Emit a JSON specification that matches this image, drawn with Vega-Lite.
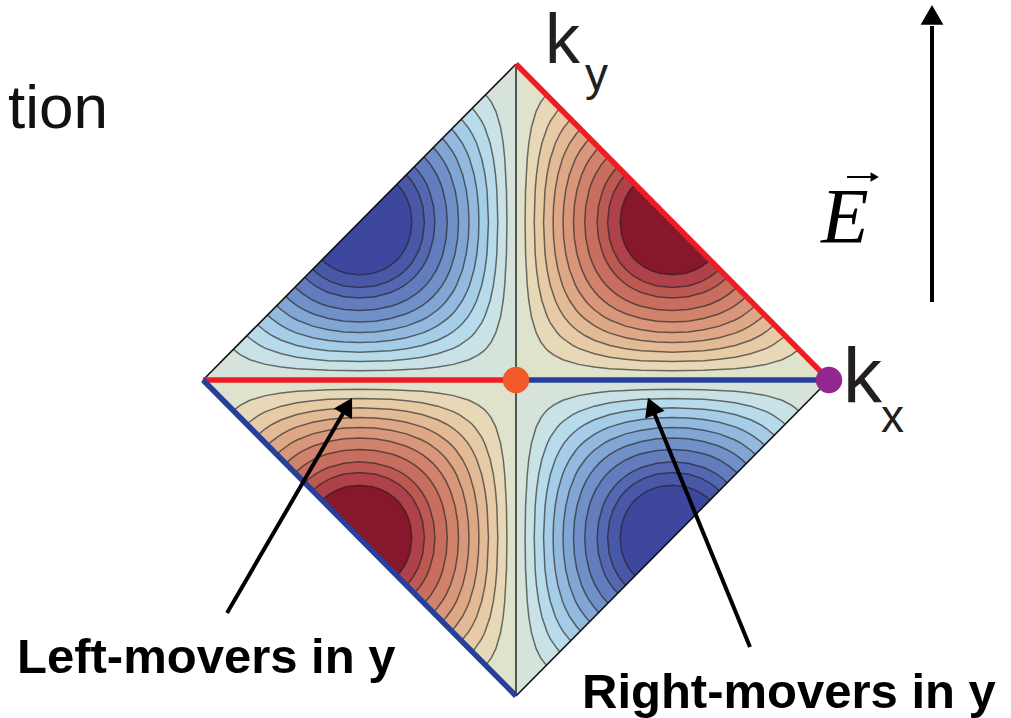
{
  "$schema": "https://vega.github.io/schema/vega-lite/v6.json",
  "width": 1011,
  "height": 718,
  "padding": 0,
  "autosize": {"type": "none"},
  "background": "white",
  "config": {"view": {"stroke": null}},
  "resolve": {"scale": {"color": "independent"}},
  "datasets": {
    "bands": [
      {"level":0,"i":0,"kx":0,"ky":1,"nkx":0,"nky":-1},
      {"level":0,"i":1,"kx":0,"ky":0,"nkx":0,"nky":0},
      {"level":0,"i":2,"kx":1,"ky":0,"nkx":-1,"nky":0},

      {"level":1,"i":0,"kx":0.0975,"ky":0.9025,"nkx":-0.0975,"nky":-0.9025},
      {"level":1,"i":1,"kx":0.0906,"ky":0.895,"nkx":-0.0906,"nky":-0.895},
      {"level":1,"i":2,"kx":0.0794,"ky":0.88,"nkx":-0.0794,"nky":-0.88},
      {"level":1,"i":3,"kx":0.0642,"ky":0.85,"nkx":-0.0642,"nky":-0.85},
      {"level":1,"i":4,"kx":0.0494,"ky":0.8,"nkx":-0.0494,"nky":-0.8},
      {"level":1,"i":5,"kx":0.041,"ky":0.75,"nkx":-0.041,"nky":-0.75},
      {"level":1,"i":6,"kx":0.0359,"ky":0.7,"nkx":-0.0359,"nky":-0.7},
      {"level":1,"i":7,"kx":0.0305,"ky":0.6,"nkx":-0.0305,"nky":-0.6},
      {"level":1,"i":8,"kx":0.029,"ky":0.5,"nkx":-0.029,"nky":-0.5},
      {"level":1,"i":9,"kx":0.0305,"ky":0.4,"nkx":-0.0305,"nky":-0.4},
      {"level":1,"i":10,"kx":0.0359,"ky":0.3,"nkx":-0.0359,"nky":-0.3},
      {"level":1,"i":11,"kx":0.041,"ky":0.25,"nkx":-0.041,"nky":-0.25},
      {"level":1,"i":12,"kx":0.0494,"ky":0.2,"nkx":-0.0494,"nky":-0.2},
      {"level":1,"i":13,"kx":0.0642,"ky":0.15,"nkx":-0.0642,"nky":-0.15},
      {"level":1,"i":14,"kx":0.0794,"ky":0.12,"nkx":-0.0794,"nky":-0.12},
      {"level":1,"i":15,"kx":0.0906,"ky":0.105,"nkx":-0.0906,"nky":-0.105},
      {"level":1,"i":16,"kx":0.0975,"ky":0.0975,"nkx":-0.0975,"nky":-0.0975},
      {"level":1,"i":17,"kx":0.105,"ky":0.0906,"nkx":-0.105,"nky":-0.0906},
      {"level":1,"i":18,"kx":0.12,"ky":0.0794,"nkx":-0.12,"nky":-0.0794},
      {"level":1,"i":19,"kx":0.15,"ky":0.0642,"nkx":-0.15,"nky":-0.0642},
      {"level":1,"i":20,"kx":0.2,"ky":0.0494,"nkx":-0.2,"nky":-0.0494},
      {"level":1,"i":21,"kx":0.25,"ky":0.041,"nkx":-0.25,"nky":-0.041},
      {"level":1,"i":22,"kx":0.3,"ky":0.0359,"nkx":-0.3,"nky":-0.0359},
      {"level":1,"i":23,"kx":0.4,"ky":0.0305,"nkx":-0.4,"nky":-0.0305},
      {"level":1,"i":24,"kx":0.5,"ky":0.029,"nkx":-0.5,"nky":-0.029},
      {"level":1,"i":25,"kx":0.6,"ky":0.0305,"nkx":-0.6,"nky":-0.0305},
      {"level":1,"i":26,"kx":0.7,"ky":0.0359,"nkx":-0.7,"nky":-0.0359},
      {"level":1,"i":27,"kx":0.75,"ky":0.041,"nkx":-0.75,"nky":-0.041},
      {"level":1,"i":28,"kx":0.8,"ky":0.0494,"nkx":-0.8,"nky":-0.0494},
      {"level":1,"i":29,"kx":0.85,"ky":0.0642,"nkx":-0.85,"nky":-0.0642},
      {"level":1,"i":30,"kx":0.88,"ky":0.0794,"nkx":-0.88,"nky":-0.0794},
      {"level":1,"i":31,"kx":0.895,"ky":0.0906,"nkx":-0.895,"nky":-0.0906},
      {"level":1,"i":32,"kx":0.9025,"ky":0.0975,"nkx":-0.9025,"nky":-0.0975},

      {"level":2,"i":0,"kx":0.1402,"ky":0.8598,"nkx":-0.1402,"nky":-0.8598},
      {"level":2,"i":1,"kx":0.1312,"ky":0.85,"nkx":-0.1312,"nky":-0.85},
      {"level":2,"i":2,"kx":0.1102,"ky":0.82,"nkx":-0.1102,"nky":-0.82},
      {"level":2,"i":3,"kx":0.1001,"ky":0.8,"nkx":-0.1001,"nky":-0.8},
      {"level":2,"i":4,"kx":0.0828,"ky":0.75,"nkx":-0.0828,"nky":-0.75},
      {"level":2,"i":5,"kx":0.0722,"ky":0.7,"nkx":-0.0722,"nky":-0.7},
      {"level":2,"i":6,"kx":0.0654,"ky":0.65,"nkx":-0.0654,"nky":-0.65},
      {"level":2,"i":7,"kx":0.0612,"ky":0.6,"nkx":-0.0612,"nky":-0.6},
      {"level":2,"i":8,"kx":0.0582,"ky":0.5,"nkx":-0.0582,"nky":-0.5},
      {"level":2,"i":9,"kx":0.0612,"ky":0.4,"nkx":-0.0612,"nky":-0.4},
      {"level":2,"i":10,"kx":0.0654,"ky":0.35,"nkx":-0.0654,"nky":-0.35},
      {"level":2,"i":11,"kx":0.0722,"ky":0.3,"nkx":-0.0722,"nky":-0.3},
      {"level":2,"i":12,"kx":0.0828,"ky":0.25,"nkx":-0.0828,"nky":-0.25},
      {"level":2,"i":13,"kx":0.1001,"ky":0.2,"nkx":-0.1001,"nky":-0.2},
      {"level":2,"i":14,"kx":0.1102,"ky":0.18,"nkx":-0.1102,"nky":-0.18},
      {"level":2,"i":15,"kx":0.1312,"ky":0.15,"nkx":-0.1312,"nky":-0.15},
      {"level":2,"i":16,"kx":0.1402,"ky":0.1402,"nkx":-0.1402,"nky":-0.1402},
      {"level":2,"i":17,"kx":0.15,"ky":0.1312,"nkx":-0.15,"nky":-0.1312},
      {"level":2,"i":18,"kx":0.18,"ky":0.1102,"nkx":-0.18,"nky":-0.1102},
      {"level":2,"i":19,"kx":0.2,"ky":0.1001,"nkx":-0.2,"nky":-0.1001},
      {"level":2,"i":20,"kx":0.25,"ky":0.0828,"nkx":-0.25,"nky":-0.0828},
      {"level":2,"i":21,"kx":0.3,"ky":0.0722,"nkx":-0.3,"nky":-0.0722},
      {"level":2,"i":22,"kx":0.35,"ky":0.0654,"nkx":-0.35,"nky":-0.0654},
      {"level":2,"i":23,"kx":0.4,"ky":0.0612,"nkx":-0.4,"nky":-0.0612},
      {"level":2,"i":24,"kx":0.5,"ky":0.0582,"nkx":-0.5,"nky":-0.0582},
      {"level":2,"i":25,"kx":0.6,"ky":0.0612,"nkx":-0.6,"nky":-0.0612},
      {"level":2,"i":26,"kx":0.65,"ky":0.0654,"nkx":-0.65,"nky":-0.0654},
      {"level":2,"i":27,"kx":0.7,"ky":0.0722,"nkx":-0.7,"nky":-0.0722},
      {"level":2,"i":28,"kx":0.75,"ky":0.0828,"nkx":-0.75,"nky":-0.0828},
      {"level":2,"i":29,"kx":0.8,"ky":0.1001,"nkx":-0.8,"nky":-0.1001},
      {"level":2,"i":30,"kx":0.82,"ky":0.1102,"nkx":-0.82,"nky":-0.1102},
      {"level":2,"i":31,"kx":0.85,"ky":0.1312,"nkx":-0.85,"nky":-0.1312},
      {"level":2,"i":32,"kx":0.8598,"ky":0.1402,"nkx":-0.8598,"nky":-0.1402},

      {"level":3,"i":0,"kx":0.1749,"ky":0.8251,"nkx":-0.1749,"nky":-0.8251},
      {"level":3,"i":1,"kx":0.17,"ky":0.82,"nkx":-0.17,"nky":-0.82},
      {"level":3,"i":2,"kx":0.1536,"ky":0.8,"nkx":-0.1536,"nky":-0.8},
      {"level":3,"i":3,"kx":0.1408,"ky":0.78,"nkx":-0.1408,"nky":-0.78},
      {"level":3,"i":4,"kx":0.126,"ky":0.75,"nkx":-0.126,"nky":-0.75},
      {"level":3,"i":5,"kx":0.1094,"ky":0.7,"nkx":-0.1094,"nky":-0.7},
      {"level":3,"i":6,"kx":0.099,"ky":0.65,"nkx":-0.099,"nky":-0.65},
      {"level":3,"i":7,"kx":0.0926,"ky":0.6,"nkx":-0.0926,"nky":-0.6},
      {"level":3,"i":8,"kx":0.0879,"ky":0.5,"nkx":-0.0879,"nky":-0.5},
      {"level":3,"i":9,"kx":0.0926,"ky":0.4,"nkx":-0.0926,"nky":-0.4},
      {"level":3,"i":10,"kx":0.099,"ky":0.35,"nkx":-0.099,"nky":-0.35},
      {"level":3,"i":11,"kx":0.1094,"ky":0.3,"nkx":-0.1094,"nky":-0.3},
      {"level":3,"i":12,"kx":0.126,"ky":0.25,"nkx":-0.126,"nky":-0.25},
      {"level":3,"i":13,"kx":0.1408,"ky":0.22,"nkx":-0.1408,"nky":-0.22},
      {"level":3,"i":14,"kx":0.1536,"ky":0.2,"nkx":-0.1536,"nky":-0.2},
      {"level":3,"i":15,"kx":0.17,"ky":0.18,"nkx":-0.17,"nky":-0.18},
      {"level":3,"i":16,"kx":0.1749,"ky":0.1749,"nkx":-0.1749,"nky":-0.1749},
      {"level":3,"i":17,"kx":0.18,"ky":0.17,"nkx":-0.18,"nky":-0.17},
      {"level":3,"i":18,"kx":0.2,"ky":0.1536,"nkx":-0.2,"nky":-0.1536},
      {"level":3,"i":19,"kx":0.22,"ky":0.1408,"nkx":-0.22,"nky":-0.1408},
      {"level":3,"i":20,"kx":0.25,"ky":0.126,"nkx":-0.25,"nky":-0.126},
      {"level":3,"i":21,"kx":0.3,"ky":0.1094,"nkx":-0.3,"nky":-0.1094},
      {"level":3,"i":22,"kx":0.35,"ky":0.099,"nkx":-0.35,"nky":-0.099},
      {"level":3,"i":23,"kx":0.4,"ky":0.0926,"nkx":-0.4,"nky":-0.0926},
      {"level":3,"i":24,"kx":0.5,"ky":0.0879,"nkx":-0.5,"nky":-0.0879},
      {"level":3,"i":25,"kx":0.6,"ky":0.0926,"nkx":-0.6,"nky":-0.0926},
      {"level":3,"i":26,"kx":0.65,"ky":0.099,"nkx":-0.65,"nky":-0.099},
      {"level":3,"i":27,"kx":0.7,"ky":0.1094,"nkx":-0.7,"nky":-0.1094},
      {"level":3,"i":28,"kx":0.75,"ky":0.126,"nkx":-0.75,"nky":-0.126},
      {"level":3,"i":29,"kx":0.78,"ky":0.1408,"nkx":-0.78,"nky":-0.1408},
      {"level":3,"i":30,"kx":0.8,"ky":0.1536,"nkx":-0.8,"nky":-0.1536},
      {"level":3,"i":31,"kx":0.82,"ky":0.17,"nkx":-0.82,"nky":-0.17},
      {"level":3,"i":32,"kx":0.8251,"ky":0.1749,"nkx":-0.8251,"nky":-0.1749},

      {"level":4,"i":0,"kx":0.206,"ky":0.794,"nkx":-0.206,"nky":-0.794},
      {"level":4,"i":1,"kx":0.1933,"ky":0.78,"nkx":-0.1933,"nky":-0.78},
      {"level":4,"i":2,"kx":0.172,"ky":0.75,"nkx":-0.172,"nky":-0.75},
      {"level":4,"i":3,"kx":0.1565,"ky":0.72,"nkx":-0.1565,"nky":-0.72},
      {"level":4,"i":4,"kx":0.1484,"ky":0.7,"nkx":-0.1484,"nky":-0.7},
      {"level":4,"i":5,"kx":0.1338,"ky":0.65,"nkx":-0.1338,"nky":-0.65},
      {"level":4,"i":6,"kx":0.1249,"ky":0.6,"nkx":-0.1249,"nky":-0.6},
      {"level":4,"i":7,"kx":0.12,"ky":0.55,"nkx":-0.12,"nky":-0.55},
      {"level":4,"i":8,"kx":0.1185,"ky":0.5,"nkx":-0.1185,"nky":-0.5},
      {"level":4,"i":9,"kx":0.12,"ky":0.45,"nkx":-0.12,"nky":-0.45},
      {"level":4,"i":10,"kx":0.1249,"ky":0.4,"nkx":-0.1249,"nky":-0.4},
      {"level":4,"i":11,"kx":0.1338,"ky":0.35,"nkx":-0.1338,"nky":-0.35},
      {"level":4,"i":12,"kx":0.1484,"ky":0.3,"nkx":-0.1484,"nky":-0.3},
      {"level":4,"i":13,"kx":0.1565,"ky":0.28,"nkx":-0.1565,"nky":-0.28},
      {"level":4,"i":14,"kx":0.172,"ky":0.25,"nkx":-0.172,"nky":-0.25},
      {"level":4,"i":15,"kx":0.1933,"ky":0.22,"nkx":-0.1933,"nky":-0.22},
      {"level":4,"i":16,"kx":0.206,"ky":0.206,"nkx":-0.206,"nky":-0.206},
      {"level":4,"i":17,"kx":0.22,"ky":0.1933,"nkx":-0.22,"nky":-0.1933},
      {"level":4,"i":18,"kx":0.25,"ky":0.172,"nkx":-0.25,"nky":-0.172},
      {"level":4,"i":19,"kx":0.28,"ky":0.1565,"nkx":-0.28,"nky":-0.1565},
      {"level":4,"i":20,"kx":0.3,"ky":0.1484,"nkx":-0.3,"nky":-0.1484},
      {"level":4,"i":21,"kx":0.35,"ky":0.1338,"nkx":-0.35,"nky":-0.1338},
      {"level":4,"i":22,"kx":0.4,"ky":0.1249,"nkx":-0.4,"nky":-0.1249},
      {"level":4,"i":23,"kx":0.45,"ky":0.12,"nkx":-0.45,"nky":-0.12},
      {"level":4,"i":24,"kx":0.5,"ky":0.1185,"nkx":-0.5,"nky":-0.1185},
      {"level":4,"i":25,"kx":0.55,"ky":0.12,"nkx":-0.55,"nky":-0.12},
      {"level":4,"i":26,"kx":0.6,"ky":0.1249,"nkx":-0.6,"nky":-0.1249},
      {"level":4,"i":27,"kx":0.65,"ky":0.1338,"nkx":-0.65,"nky":-0.1338},
      {"level":4,"i":28,"kx":0.7,"ky":0.1484,"nkx":-0.7,"nky":-0.1484},
      {"level":4,"i":29,"kx":0.72,"ky":0.1565,"nkx":-0.72,"nky":-0.1565},
      {"level":4,"i":30,"kx":0.75,"ky":0.172,"nkx":-0.75,"nky":-0.172},
      {"level":4,"i":31,"kx":0.78,"ky":0.1933,"nkx":-0.78,"nky":-0.1933},
      {"level":4,"i":32,"kx":0.794,"ky":0.206,"nkx":-0.794,"nky":-0.206},

      {"level":5,"i":0,"kx":0.2355,"ky":0.7645,"nkx":-0.2355,"nky":-0.7645},
      {"level":5,"i":1,"kx":0.2223,"ky":0.75,"nkx":-0.2223,"nky":-0.75},
      {"level":5,"i":2,"kx":0.2008,"ky":0.72,"nkx":-0.2008,"nky":-0.72},
      {"level":5,"i":3,"kx":0.1899,"ky":0.7,"nkx":-0.1899,"nky":-0.7},
      {"level":5,"i":4,"kx":0.1705,"ky":0.65,"nkx":-0.1705,"nky":-0.65},
      {"level":5,"i":5,"kx":0.1587,"ky":0.6,"nkx":-0.1587,"nky":-0.6},
      {"level":5,"i":6,"kx":0.1522,"ky":0.55,"nkx":-0.1522,"nky":-0.55},
      {"level":5,"i":7,"kx":0.1502,"ky":0.5,"nkx":-0.1502,"nky":-0.5},
      {"level":5,"i":8,"kx":0.1522,"ky":0.45,"nkx":-0.1522,"nky":-0.45},
      {"level":5,"i":9,"kx":0.1587,"ky":0.4,"nkx":-0.1587,"nky":-0.4},
      {"level":5,"i":10,"kx":0.1705,"ky":0.35,"nkx":-0.1705,"nky":-0.35},
      {"level":5,"i":11,"kx":0.1899,"ky":0.3,"nkx":-0.1899,"nky":-0.3},
      {"level":5,"i":12,"kx":0.2008,"ky":0.28,"nkx":-0.2008,"nky":-0.28},
      {"level":5,"i":13,"kx":0.2223,"ky":0.25,"nkx":-0.2223,"nky":-0.25},
      {"level":5,"i":14,"kx":0.2355,"ky":0.2355,"nkx":-0.2355,"nky":-0.2355},
      {"level":5,"i":15,"kx":0.25,"ky":0.2223,"nkx":-0.25,"nky":-0.2223},
      {"level":5,"i":16,"kx":0.28,"ky":0.2008,"nkx":-0.28,"nky":-0.2008},
      {"level":5,"i":17,"kx":0.3,"ky":0.1899,"nkx":-0.3,"nky":-0.1899},
      {"level":5,"i":18,"kx":0.35,"ky":0.1705,"nkx":-0.35,"nky":-0.1705},
      {"level":5,"i":19,"kx":0.4,"ky":0.1587,"nkx":-0.4,"nky":-0.1587},
      {"level":5,"i":20,"kx":0.45,"ky":0.1522,"nkx":-0.45,"nky":-0.1522},
      {"level":5,"i":21,"kx":0.5,"ky":0.1502,"nkx":-0.5,"nky":-0.1502},
      {"level":5,"i":22,"kx":0.55,"ky":0.1522,"nkx":-0.55,"nky":-0.1522},
      {"level":5,"i":23,"kx":0.6,"ky":0.1587,"nkx":-0.6,"nky":-0.1587},
      {"level":5,"i":24,"kx":0.65,"ky":0.1705,"nkx":-0.65,"nky":-0.1705},
      {"level":5,"i":25,"kx":0.7,"ky":0.1899,"nkx":-0.7,"nky":-0.1899},
      {"level":5,"i":26,"kx":0.72,"ky":0.2008,"nkx":-0.72,"nky":-0.2008},
      {"level":5,"i":27,"kx":0.75,"ky":0.2223,"nkx":-0.75,"nky":-0.2223},
      {"level":5,"i":28,"kx":0.7645,"ky":0.2355,"nkx":-0.7645,"nky":-0.2355},

      {"level":6,"i":0,"kx":0.2645,"ky":0.7355,"nkx":-0.2645,"nky":-0.7355},
      {"level":6,"i":1,"kx":0.2504,"ky":0.72,"nkx":-0.2504,"nky":-0.72},
      {"level":6,"i":2,"kx":0.2356,"ky":0.7,"nkx":-0.2356,"nky":-0.7},
      {"level":6,"i":3,"kx":0.2236,"ky":0.68,"nkx":-0.2236,"nky":-0.68},
      {"level":6,"i":4,"kx":0.2097,"ky":0.65,"nkx":-0.2097,"nky":-0.65},
      {"level":6,"i":5,"kx":0.1944,"ky":0.6,"nkx":-0.1944,"nky":-0.6},
      {"level":6,"i":6,"kx":0.1862,"ky":0.55,"nkx":-0.1862,"nky":-0.55},
      {"level":6,"i":7,"kx":0.1837,"ky":0.5,"nkx":-0.1837,"nky":-0.5},
      {"level":6,"i":8,"kx":0.1862,"ky":0.45,"nkx":-0.1862,"nky":-0.45},
      {"level":6,"i":9,"kx":0.1944,"ky":0.4,"nkx":-0.1944,"nky":-0.4},
      {"level":6,"i":10,"kx":0.2097,"ky":0.35,"nkx":-0.2097,"nky":-0.35},
      {"level":6,"i":11,"kx":0.2236,"ky":0.32,"nkx":-0.2236,"nky":-0.32},
      {"level":6,"i":12,"kx":0.2356,"ky":0.3,"nkx":-0.2356,"nky":-0.3},
      {"level":6,"i":13,"kx":0.2504,"ky":0.28,"nkx":-0.2504,"nky":-0.28},
      {"level":6,"i":14,"kx":0.2645,"ky":0.2645,"nkx":-0.2645,"nky":-0.2645},
      {"level":6,"i":15,"kx":0.28,"ky":0.2504,"nkx":-0.28,"nky":-0.2504},
      {"level":6,"i":16,"kx":0.3,"ky":0.2356,"nkx":-0.3,"nky":-0.2356},
      {"level":6,"i":17,"kx":0.32,"ky":0.2236,"nkx":-0.32,"nky":-0.2236},
      {"level":6,"i":18,"kx":0.35,"ky":0.2097,"nkx":-0.35,"nky":-0.2097},
      {"level":6,"i":19,"kx":0.4,"ky":0.1944,"nkx":-0.4,"nky":-0.1944},
      {"level":6,"i":20,"kx":0.45,"ky":0.1862,"nkx":-0.45,"nky":-0.1862},
      {"level":6,"i":21,"kx":0.5,"ky":0.1837,"nkx":-0.5,"nky":-0.1837},
      {"level":6,"i":22,"kx":0.55,"ky":0.1862,"nkx":-0.55,"nky":-0.1862},
      {"level":6,"i":23,"kx":0.6,"ky":0.1944,"nkx":-0.6,"nky":-0.1944},
      {"level":6,"i":24,"kx":0.65,"ky":0.2097,"nkx":-0.65,"nky":-0.2097},
      {"level":6,"i":25,"kx":0.68,"ky":0.2236,"nkx":-0.68,"nky":-0.2236},
      {"level":6,"i":26,"kx":0.7,"ky":0.2356,"nkx":-0.7,"nky":-0.2356},
      {"level":6,"i":27,"kx":0.72,"ky":0.2504,"nkx":-0.72,"nky":-0.2504},
      {"level":6,"i":28,"kx":0.7355,"ky":0.2645,"nkx":-0.7355,"nky":-0.2645},

      {"level":7,"i":0,"kx":0.294,"ky":0.706,"nkx":-0.294,"nky":-0.706},
      {"level":7,"i":1,"kx":0.2882,"ky":0.7,"nkx":-0.2882,"nky":-0.7},
      {"level":7,"i":2,"kx":0.2717,"ky":0.68,"nkx":-0.2717,"nky":-0.68},
      {"level":7,"i":3,"kx":0.2531,"ky":0.65,"nkx":-0.2531,"nky":-0.65},
      {"level":7,"i":4,"kx":0.2399,"ky":0.62,"nkx":-0.2399,"nky":-0.62},
      {"level":7,"i":5,"kx":0.2333,"ky":0.6,"nkx":-0.2333,"nky":-0.6},
      {"level":7,"i":6,"kx":0.2229,"ky":0.55,"nkx":-0.2229,"nky":-0.55},
      {"level":7,"i":7,"kx":0.2196,"ky":0.5,"nkx":-0.2196,"nky":-0.5},
      {"level":7,"i":8,"kx":0.2229,"ky":0.45,"nkx":-0.2229,"nky":-0.45},
      {"level":7,"i":9,"kx":0.2333,"ky":0.4,"nkx":-0.2333,"nky":-0.4},
      {"level":7,"i":10,"kx":0.2399,"ky":0.38,"nkx":-0.2399,"nky":-0.38},
      {"level":7,"i":11,"kx":0.2531,"ky":0.35,"nkx":-0.2531,"nky":-0.35},
      {"level":7,"i":12,"kx":0.2717,"ky":0.32,"nkx":-0.2717,"nky":-0.32},
      {"level":7,"i":13,"kx":0.2882,"ky":0.3,"nkx":-0.2882,"nky":-0.3},
      {"level":7,"i":14,"kx":0.294,"ky":0.294,"nkx":-0.294,"nky":-0.294},
      {"level":7,"i":15,"kx":0.3,"ky":0.2882,"nkx":-0.3,"nky":-0.2882},
      {"level":7,"i":16,"kx":0.32,"ky":0.2717,"nkx":-0.32,"nky":-0.2717},
      {"level":7,"i":17,"kx":0.35,"ky":0.2531,"nkx":-0.35,"nky":-0.2531},
      {"level":7,"i":18,"kx":0.38,"ky":0.2399,"nkx":-0.38,"nky":-0.2399},
      {"level":7,"i":19,"kx":0.4,"ky":0.2333,"nkx":-0.4,"nky":-0.2333},
      {"level":7,"i":20,"kx":0.45,"ky":0.2229,"nkx":-0.45,"nky":-0.2229},
      {"level":7,"i":21,"kx":0.5,"ky":0.2196,"nkx":-0.5,"nky":-0.2196},
      {"level":7,"i":22,"kx":0.55,"ky":0.2229,"nkx":-0.55,"nky":-0.2229},
      {"level":7,"i":23,"kx":0.6,"ky":0.2333,"nkx":-0.6,"nky":-0.2333},
      {"level":7,"i":24,"kx":0.62,"ky":0.2399,"nkx":-0.62,"nky":-0.2399},
      {"level":7,"i":25,"kx":0.65,"ky":0.2531,"nkx":-0.65,"nky":-0.2531},
      {"level":7,"i":26,"kx":0.68,"ky":0.2717,"nkx":-0.68,"nky":-0.2717},
      {"level":7,"i":27,"kx":0.7,"ky":0.2882,"nkx":-0.7,"nky":-0.2882},
      {"level":7,"i":28,"kx":0.706,"ky":0.294,"nkx":-0.706,"nky":-0.294},

      {"level":8,"i":0,"kx":0.3252,"ky":0.6748,"nkx":-0.3252,"nky":-0.6748},
      {"level":8,"i":1,"kx":0.3117,"ky":0.66,"nkx":-0.3117,"nky":-0.66},
      {"level":8,"i":2,"kx":0.2972,"ky":0.64,"nkx":-0.2972,"nky":-0.64},
      {"level":8,"i":3,"kx":0.2859,"ky":0.62,"nkx":-0.2859,"nky":-0.62},
      {"level":8,"i":4,"kx":0.2771,"ky":0.6,"nkx":-0.2771,"nky":-0.6},
      {"level":8,"i":5,"kx":0.2634,"ky":0.55,"nkx":-0.2634,"nky":-0.55},
      {"level":8,"i":6,"kx":0.2591,"ky":0.5,"nkx":-0.2591,"nky":-0.5},
      {"level":8,"i":7,"kx":0.2634,"ky":0.45,"nkx":-0.2634,"nky":-0.45},
      {"level":8,"i":8,"kx":0.2771,"ky":0.4,"nkx":-0.2771,"nky":-0.4},
      {"level":8,"i":9,"kx":0.2859,"ky":0.38,"nkx":-0.2859,"nky":-0.38},
      {"level":8,"i":10,"kx":0.2972,"ky":0.36,"nkx":-0.2972,"nky":-0.36},
      {"level":8,"i":11,"kx":0.3117,"ky":0.34,"nkx":-0.3117,"nky":-0.34},
      {"level":8,"i":12,"kx":0.3252,"ky":0.3252,"nkx":-0.3252,"nky":-0.3252},
      {"level":8,"i":13,"kx":0.34,"ky":0.3117,"nkx":-0.34,"nky":-0.3117},
      {"level":8,"i":14,"kx":0.36,"ky":0.2972,"nkx":-0.36,"nky":-0.2972},
      {"level":8,"i":15,"kx":0.38,"ky":0.2859,"nkx":-0.38,"nky":-0.2859},
      {"level":8,"i":16,"kx":0.4,"ky":0.2771,"nkx":-0.4,"nky":-0.2771},
      {"level":8,"i":17,"kx":0.45,"ky":0.2634,"nkx":-0.45,"nky":-0.2634},
      {"level":8,"i":18,"kx":0.5,"ky":0.2591,"nkx":-0.5,"nky":-0.2591},
      {"level":8,"i":19,"kx":0.55,"ky":0.2634,"nkx":-0.55,"nky":-0.2634},
      {"level":8,"i":20,"kx":0.6,"ky":0.2771,"nkx":-0.6,"nky":-0.2771},
      {"level":8,"i":21,"kx":0.62,"ky":0.2859,"nkx":-0.62,"nky":-0.2859},
      {"level":8,"i":22,"kx":0.64,"ky":0.2972,"nkx":-0.64,"nky":-0.2972},
      {"level":8,"i":23,"kx":0.66,"ky":0.3117,"nkx":-0.66,"nky":-0.3117},
      {"level":8,"i":24,"kx":0.6748,"ky":0.3252,"nkx":-0.6748,"nky":-0.3252},

      {"level":9,"i":0,"kx":0.3504,"ky":0.6496,"nkx":-0.3504,"nky":-0.6496},
      {"level":9,"i":1,"kx":0.3416,"ky":0.64,"nkx":-0.3416,"nky":-0.64},
      {"level":9,"i":2,"kx":0.3335,"ky":0.63,"nkx":-0.3335,"nky":-0.63},
      {"level":9,"i":3,"kx":0.3266,"ky":0.62,"nkx":-0.3266,"nky":-0.62},
      {"level":9,"i":4,"kx":0.3104,"ky":0.59,"nkx":-0.3104,"nky":-0.59},
      {"level":9,"i":5,"kx":0.2978,"ky":0.55,"nkx":-0.2978,"nky":-0.55},
      {"level":9,"i":6,"kx":0.2925,"ky":0.5,"nkx":-0.2925,"nky":-0.5},
      {"level":9,"i":7,"kx":0.2978,"ky":0.45,"nkx":-0.2978,"nky":-0.45},
      {"level":9,"i":8,"kx":0.3104,"ky":0.41,"nkx":-0.3104,"nky":-0.41},
      {"level":9,"i":9,"kx":0.3266,"ky":0.38,"nkx":-0.3266,"nky":-0.38},
      {"level":9,"i":10,"kx":0.3335,"ky":0.37,"nkx":-0.3335,"nky":-0.37},
      {"level":9,"i":11,"kx":0.3416,"ky":0.36,"nkx":-0.3416,"nky":-0.36},
      {"level":9,"i":12,"kx":0.3504,"ky":0.3504,"nkx":-0.3504,"nky":-0.3504},
      {"level":9,"i":13,"kx":0.36,"ky":0.3416,"nkx":-0.36,"nky":-0.3416},
      {"level":9,"i":14,"kx":0.37,"ky":0.3335,"nkx":-0.37,"nky":-0.3335},
      {"level":9,"i":15,"kx":0.38,"ky":0.3266,"nkx":-0.38,"nky":-0.3266},
      {"level":9,"i":16,"kx":0.41,"ky":0.3104,"nkx":-0.41,"nky":-0.3104},
      {"level":9,"i":17,"kx":0.45,"ky":0.2978,"nkx":-0.45,"nky":-0.2978},
      {"level":9,"i":18,"kx":0.5,"ky":0.2925,"nkx":-0.5,"nky":-0.2925},
      {"level":9,"i":19,"kx":0.55,"ky":0.2978,"nkx":-0.55,"nky":-0.2978},
      {"level":9,"i":20,"kx":0.59,"ky":0.3104,"nkx":-0.59,"nky":-0.3104},
      {"level":9,"i":21,"kx":0.62,"ky":0.3266,"nkx":-0.62,"nky":-0.3266},
      {"level":9,"i":22,"kx":0.63,"ky":0.3335,"nkx":-0.63,"nky":-0.3335},
      {"level":9,"i":23,"kx":0.64,"ky":0.3416,"nkx":-0.64,"nky":-0.3416},
      {"level":9,"i":24,"kx":0.6496,"ky":0.3504,"nkx":-0.6496,"nky":-0.3504},

      {"level":10,"i":0,"kx":0.3802,"ky":0.6198,"nkx":-0.3802,"nky":-0.6198},
      {"level":10,"i":1,"kx":0.3713,"ky":0.61,"nkx":-0.3713,"nky":-0.61},
      {"level":10,"i":2,"kx":0.357,"ky":0.59,"nkx":-0.357,"nky":-0.59},
      {"level":10,"i":3,"kx":0.3468,"ky":0.57,"nkx":-0.3468,"nky":-0.57},
      {"level":10,"i":4,"kx":0.3371,"ky":0.54,"nkx":-0.3371,"nky":-0.54},
      {"level":10,"i":5,"kx":0.3327,"ky":0.5,"nkx":-0.3327,"nky":-0.5},
      {"level":10,"i":6,"kx":0.3371,"ky":0.46,"nkx":-0.3371,"nky":-0.46},
      {"level":10,"i":7,"kx":0.3468,"ky":0.43,"nkx":-0.3468,"nky":-0.43},
      {"level":10,"i":8,"kx":0.357,"ky":0.41,"nkx":-0.357,"nky":-0.41},
      {"level":10,"i":9,"kx":0.3713,"ky":0.39,"nkx":-0.3713,"nky":-0.39},
      {"level":10,"i":10,"kx":0.3802,"ky":0.3802,"nkx":-0.3802,"nky":-0.3802},
      {"level":10,"i":11,"kx":0.39,"ky":0.3713,"nkx":-0.39,"nky":-0.3713},
      {"level":10,"i":12,"kx":0.41,"ky":0.357,"nkx":-0.41,"nky":-0.357},
      {"level":10,"i":13,"kx":0.43,"ky":0.3468,"nkx":-0.43,"nky":-0.3468},
      {"level":10,"i":14,"kx":0.46,"ky":0.3371,"nkx":-0.46,"nky":-0.3371},
      {"level":10,"i":15,"kx":0.5,"ky":0.3327,"nkx":-0.5,"nky":-0.3327},
      {"level":10,"i":16,"kx":0.54,"ky":0.3371,"nkx":-0.54,"nky":-0.3371},
      {"level":10,"i":17,"kx":0.57,"ky":0.3468,"nkx":-0.57,"nky":-0.3468},
      {"level":10,"i":18,"kx":0.59,"ky":0.357,"nkx":-0.59,"nky":-0.357},
      {"level":10,"i":19,"kx":0.61,"ky":0.3713,"nkx":-0.61,"nky":-0.3713},
      {"level":10,"i":20,"kx":0.6198,"ky":0.3802,"nkx":-0.6198,"nky":-0.3802}
    ],
    "boundary": [
      {"edge":"upper-left","i":0,"kx":0,"ky":1},
      {"edge":"upper-left","i":1,"kx":-1,"ky":0},
      {"edge":"lower-right","i":0,"kx":1,"ky":0},
      {"edge":"lower-right","i":1,"kx":0,"ky":-1}
    ],
    "movers": [
      {"mover":"left","seg":"axis","i":0,"kx":-1,"ky":0},
      {"mover":"left","seg":"axis","i":1,"kx":0,"ky":0},
      {"mover":"left","seg":"edge","i":0,"kx":0,"ky":1},
      {"mover":"left","seg":"edge","i":1,"kx":1,"ky":0},
      {"mover":"right","seg":"axis","i":0,"kx":0,"ky":0},
      {"mover":"right","seg":"axis","i":1,"kx":1,"ky":0},
      {"mover":"right","seg":"edge","i":0,"kx":-1,"ky":0},
      {"mover":"right","seg":"edge","i":1,"kx":0,"ky":-1}
    ],
    "points": [
      {"point":"center","kx":0,"ky":0},
      {"point":"vertex","kx":1,"ky":0}
    ],
    "pointers": [
      {"target":"left","kx":-0.9233,"ky":-0.7373,"kx2":-0.5383,"ky2":-0.0816},
      {"target":"right","kx":0.7476,"ky":-0.8449,"kx2":0.4326,"ky2":-0.0832}
    ],
    "field": [
      {"kx":1.3291,"ky":0.2468,"kx2":1.3291,"ky2":1.1203,"hx":1.3291,"hy":1.1551}
    ],
    "vecE": [
      {"kx":1.0575,"ky":0.6424,"kx2":1.1438,"ky2":0.6424,"hx":1.146,"hy":0.6424}
    ]
  },
  "layer": [
    {
      "data": {"name": "bands"},
      "mark": {"type": "line", "filled": true, "strokeWidth": 0},
      "encoding": {
        "x": {"field": "kx", "type": "quantitative", "scale": {"domain": [-1.6486, 1.5815], "nice": false, "zero": false}, "axis": null},
        "y": {"field": "ky", "type": "quantitative", "scale": {"domain": [-1.0696, 1.2025], "nice": false, "zero": false}, "axis": null},
        "color": {"field": "level", "type": "ordinal", "legend": null,
          "scale": {"domain": [0,1,2,3,4,5,6,7,8,9,10], "range": ["#DFE3CB","#E7D9B8","#E6CBA6","#E3BA96","#DEA887","#D8967A","#D0826B","#C76E5F","#BC5953","#AE4149","#87172A"]}},
        "order": {"field": "i", "type": "quantitative"}
      }
    },
    {
      "data": {"name": "bands"},
      "mark": {"type": "line", "filled": true, "strokeWidth": 0},
      "encoding": {
        "x": {"field": "nkx", "type": "quantitative", "scale": {"domain": [-1.6486, 1.5815], "nice": false, "zero": false}, "axis": null},
        "y": {"field": "ky", "type": "quantitative", "scale": {"domain": [-1.0696, 1.2025], "nice": false, "zero": false}, "axis": null},
        "color": {"field": "level", "type": "ordinal", "legend": null,
          "scale": {"domain": [0,1,2,3,4,5,6,7,8,9,10], "range": ["#D6E3DA","#C8E2E6","#B8DBEB","#A6CDE7","#93BADE","#82A6D4","#7190C8","#627CBD","#5468B1","#4858A7","#3E479E"]}},
        "order": {"field": "i", "type": "quantitative"}
      }
    },
    {
      "data": {"name": "bands"},
      "mark": {"type": "line", "filled": true, "strokeWidth": 0},
      "encoding": {
        "x": {"field": "nkx", "type": "quantitative", "scale": {"domain": [-1.6486, 1.5815], "nice": false, "zero": false}, "axis": null},
        "y": {"field": "nky", "type": "quantitative", "scale": {"domain": [-1.0696, 1.2025], "nice": false, "zero": false}, "axis": null},
        "color": {"field": "level", "type": "ordinal", "legend": null,
          "scale": {"domain": [0,1,2,3,4,5,6,7,8,9,10], "range": ["#DFE3CB","#E7D9B8","#E6CBA6","#E3BA96","#DEA887","#D8967A","#D0826B","#C76E5F","#BC5953","#AE4149","#87172A"]}},
        "order": {"field": "i", "type": "quantitative"}
      }
    },
    {
      "data": {"name": "bands"},
      "mark": {"type": "line", "filled": true, "strokeWidth": 0},
      "encoding": {
        "x": {"field": "kx", "type": "quantitative", "scale": {"domain": [-1.6486, 1.5815], "nice": false, "zero": false}, "axis": null},
        "y": {"field": "nky", "type": "quantitative", "scale": {"domain": [-1.0696, 1.2025], "nice": false, "zero": false}, "axis": null},
        "color": {"field": "level", "type": "ordinal", "legend": null,
          "scale": {"domain": [0,1,2,3,4,5,6,7,8,9,10], "range": ["#D6E3DA","#C8E2E6","#B8DBEB","#A6CDE7","#93BADE","#82A6D4","#7190C8","#627CBD","#5468B1","#4858A7","#3E479E"]}},
        "order": {"field": "i", "type": "quantitative"}
      }
    },
    {
      "data": {"name": "bands"},
      "mark": {"type": "line", "stroke": "#1e1e1e", "strokeWidth": 1.5, "strokeOpacity": 0.62},
      "encoding": {
        "x": {"field": "kx", "type": "quantitative", "scale": {"domain": [-1.6486, 1.5815], "nice": false, "zero": false}, "axis": null},
        "y": {"field": "ky", "type": "quantitative", "scale": {"domain": [-1.0696, 1.2025], "nice": false, "zero": false}, "axis": null},
        "detail": {"field": "level", "type": "ordinal"},
        "order": {"field": "i", "type": "quantitative"}
      }
    },
    {
      "data": {"name": "bands"},
      "mark": {"type": "line", "stroke": "#1e1e1e", "strokeWidth": 1.5, "strokeOpacity": 0.62},
      "encoding": {
        "x": {"field": "nkx", "type": "quantitative", "scale": {"domain": [-1.6486, 1.5815], "nice": false, "zero": false}, "axis": null},
        "y": {"field": "ky", "type": "quantitative", "scale": {"domain": [-1.0696, 1.2025], "nice": false, "zero": false}, "axis": null},
        "detail": {"field": "level", "type": "ordinal"},
        "order": {"field": "i", "type": "quantitative"}
      }
    },
    {
      "data": {"name": "bands"},
      "mark": {"type": "line", "stroke": "#1e1e1e", "strokeWidth": 1.5, "strokeOpacity": 0.62},
      "encoding": {
        "x": {"field": "nkx", "type": "quantitative", "scale": {"domain": [-1.6486, 1.5815], "nice": false, "zero": false}, "axis": null},
        "y": {"field": "nky", "type": "quantitative", "scale": {"domain": [-1.0696, 1.2025], "nice": false, "zero": false}, "axis": null},
        "detail": {"field": "level", "type": "ordinal"},
        "order": {"field": "i", "type": "quantitative"}
      }
    },
    {
      "data": {"name": "bands"},
      "mark": {"type": "line", "stroke": "#1e1e1e", "strokeWidth": 1.5, "strokeOpacity": 0.62},
      "encoding": {
        "x": {"field": "kx", "type": "quantitative", "scale": {"domain": [-1.6486, 1.5815], "nice": false, "zero": false}, "axis": null},
        "y": {"field": "nky", "type": "quantitative", "scale": {"domain": [-1.0696, 1.2025], "nice": false, "zero": false}, "axis": null},
        "detail": {"field": "level", "type": "ordinal"},
        "order": {"field": "i", "type": "quantitative"}
      }
    },
    {
      "data": {"name": "boundary"},
      "mark": {"type": "line", "stroke": "#111111", "strokeWidth": 1.6},
      "encoding": {
        "x": {"field": "kx", "type": "quantitative", "scale": {"domain": [-1.6486, 1.5815], "nice": false, "zero": false}, "axis": null},
        "y": {"field": "ky", "type": "quantitative", "scale": {"domain": [-1.0696, 1.2025], "nice": false, "zero": false}, "axis": null},
        "detail": {"field": "edge", "type": "nominal"},
        "order": {"field": "i", "type": "quantitative"}
      }
    },
    {
      "data": {"name": "movers"},
      "mark": {"type": "line", "strokeWidth": 5.5},
      "encoding": {
        "x": {"field": "kx", "type": "quantitative", "scale": {"domain": [-1.6486, 1.5815], "nice": false, "zero": false}, "axis": null},
        "y": {"field": "ky", "type": "quantitative", "scale": {"domain": [-1.0696, 1.2025], "nice": false, "zero": false}, "axis": null},
        "color": {"field": "mover", "type": "nominal", "legend": null, "scale": {"domain": ["right", "left"], "range": ["#263F98", "#EE1D25"]}},
        "detail": {"field": "seg", "type": "nominal"},
        "order": {"field": "i", "type": "quantitative"}
      }
    },
    {
      "data": {"name": "points"},
      "mark": {"type": "circle", "size": 700, "opacity": 1},
      "encoding": {
        "x": {"field": "kx", "type": "quantitative", "scale": {"domain": [-1.6486, 1.5815], "nice": false, "zero": false}, "axis": null},
        "y": {"field": "ky", "type": "quantitative", "scale": {"domain": [-1.0696, 1.2025], "nice": false, "zero": false}, "axis": null},
        "color": {"field": "point", "type": "nominal", "legend": null, "scale": {"domain": ["center", "vertex"], "range": ["#F15A29", "#92278F"]}}
      }
    },
    {
      "data": {"name": "pointers"},
      "mark": {"type": "rule", "color": "#000000", "strokeWidth": 4},
      "encoding": {
        "x": {"field": "kx", "type": "quantitative", "scale": {"domain": [-1.6486, 1.5815], "nice": false, "zero": false}, "axis": null},
        "y": {"field": "ky", "type": "quantitative", "scale": {"domain": [-1.0696, 1.2025], "nice": false, "zero": false}, "axis": null},
        "x2": {"field": "kx2"},
        "y2": {"field": "ky2"}
      }
    },
    {
      "data": {"name": "pointers"},
      "transform": [{"filter": "datum.target === 'left'"}],
      "mark": {"type": "point", "shape": "triangle-up", "filled": true, "color": "#000000", "opacity": 1, "size": 440, "angle": 30},
      "encoding": {
        "x": {"field": "kx2", "type": "quantitative", "scale": {"domain": [-1.6486, 1.5815], "nice": false, "zero": false}, "axis": null},
        "y": {"field": "ky2", "type": "quantitative", "scale": {"domain": [-1.0696, 1.2025], "nice": false, "zero": false}, "axis": null}
      }
    },
    {
      "data": {"name": "pointers"},
      "transform": [{"filter": "datum.target === 'right'"}],
      "mark": {"type": "point", "shape": "triangle-up", "filled": true, "color": "#000000", "opacity": 1, "size": 440, "angle": 338},
      "encoding": {
        "x": {"field": "kx2", "type": "quantitative", "scale": {"domain": [-1.6486, 1.5815], "nice": false, "zero": false}, "axis": null},
        "y": {"field": "ky2", "type": "quantitative", "scale": {"domain": [-1.0696, 1.2025], "nice": false, "zero": false}, "axis": null}
      }
    },
    {
      "data": {"name": "field"},
      "mark": {"type": "rule", "color": "#000000", "strokeWidth": 4},
      "encoding": {
        "x": {"field": "kx", "type": "quantitative", "scale": {"domain": [-1.6486, 1.5815], "nice": false, "zero": false}, "axis": null},
        "y": {"field": "ky", "type": "quantitative", "scale": {"domain": [-1.0696, 1.2025], "nice": false, "zero": false}, "axis": null},
        "x2": {"field": "kx2"},
        "y2": {"field": "ky2"}
      }
    },
    {
      "data": {"name": "field"},
      "mark": {"type": "point", "shape": "triangle-up", "filled": true, "color": "#000000", "opacity": 1, "size": 520},
      "encoding": {
        "x": {"field": "hx", "type": "quantitative", "scale": {"domain": [-1.6486, 1.5815], "nice": false, "zero": false}, "axis": null},
        "y": {"field": "hy", "type": "quantitative", "scale": {"domain": [-1.0696, 1.2025], "nice": false, "zero": false}, "axis": null}
      }
    },
    {
      "data": {"name": "vecE"},
      "mark": {"type": "rule", "color": "#000000", "strokeWidth": 2},
      "encoding": {
        "x": {"field": "kx", "type": "quantitative", "scale": {"domain": [-1.6486, 1.5815], "nice": false, "zero": false}, "axis": null},
        "y": {"field": "ky", "type": "quantitative", "scale": {"domain": [-1.0696, 1.2025], "nice": false, "zero": false}, "axis": null},
        "x2": {"field": "kx2"},
        "y2": {"field": "ky2"}
      }
    },
    {
      "data": {"name": "vecE"},
      "mark": {"type": "point", "shape": "triangle-right", "filled": true, "color": "#000000", "opacity": 1, "size": 90},
      "encoding": {
        "x": {"field": "hx", "type": "quantitative", "scale": {"domain": [-1.6486, 1.5815], "nice": false, "zero": false}, "axis": null},
        "y": {"field": "hy", "type": "quantitative", "scale": {"domain": [-1.0696, 1.2025], "nice": false, "zero": false}, "axis": null}
      }
    },
    {
      "data": {"values": [{"label": "E", "kx": 0.9744, "ky": 0.4367}]},
      "mark": {"type": "text", "font": "Liberation Serif", "fontStyle": "italic", "fontSize": 78, "align": "left", "baseline": "alphabetic", "color": "#000000"},
      "encoding": {
        "x": {"field": "kx", "type": "quantitative", "scale": {"domain": [-1.6486, 1.5815], "nice": false, "zero": false}, "axis": null},
        "y": {"field": "ky", "type": "quantitative", "scale": {"domain": [-1.0696, 1.2025], "nice": false, "zero": false}, "axis": null},
        "text": {"field": "label"}
      }
    },
    {
      "data": {"values": [{"label": "tion", "kx": -1.3035, "ky": 0.7975}]},
      "mark": {"type": "text", "font": "Liberation Sans", "fontSize": 62, "align": "right", "baseline": "alphabetic", "color": "#111111"},
      "encoding": {
        "x": {"field": "kx", "type": "quantitative", "scale": {"domain": [-1.6486, 1.5815], "nice": false, "zero": false}, "axis": null},
        "y": {"field": "ky", "type": "quantitative", "scale": {"domain": [-1.0696, 1.2025], "nice": false, "zero": false}, "axis": null},
        "text": {"field": "label"}
      }
    },
    {
      "data": {"values": [{"label": "k", "kx": 0.0927, "ky": 1.0032}]},
      "mark": {"type": "text", "font": "Liberation Sans", "fontSize": 70, "align": "left", "baseline": "alphabetic", "color": "#231F20"},
      "encoding": {
        "x": {"field": "kx", "type": "quantitative", "scale": {"domain": [-1.6486, 1.5815], "nice": false, "zero": false}, "axis": null},
        "y": {"field": "ky", "type": "quantitative", "scale": {"domain": [-1.0696, 1.2025], "nice": false, "zero": false}, "axis": null},
        "text": {"field": "label"}
      }
    },
    {
      "data": {"values": [{"label": "k", "kx": 1.0447, "ky": -0.0728}]},
      "mark": {"type": "text", "font": "Liberation Sans", "fontSize": 78, "align": "left", "baseline": "alphabetic", "color": "#231F20"},
      "encoding": {
        "x": {"field": "kx", "type": "quantitative", "scale": {"domain": [-1.6486, 1.5815], "nice": false, "zero": false}, "axis": null},
        "y": {"field": "ky", "type": "quantitative", "scale": {"domain": [-1.0696, 1.2025], "nice": false, "zero": false}, "axis": null},
        "text": {"field": "label"}
      }
    },
    {
      "data": {"values": [{"label": "y", "kx": 0.2204, "ky": 0.9177}, {"label": "x", "kx": 1.1661, "ky": -0.1646}]},
      "mark": {"type": "text", "font": "Liberation Sans", "fontSize": 46, "align": "left", "baseline": "alphabetic", "color": "#231F20"},
      "encoding": {
        "x": {"field": "kx", "type": "quantitative", "scale": {"domain": [-1.6486, 1.5815], "nice": false, "zero": false}, "axis": null},
        "y": {"field": "ky", "type": "quantitative", "scale": {"domain": [-1.0696, 1.2025], "nice": false, "zero": false}, "axis": null},
        "text": {"field": "label"}
      }
    },
    {
      "data": {"values": [{"label": "Left-movers in y", "kx": -1.5942, "ky": -0.9272}, {"label": "Right-movers in y", "kx": 0.2109, "ky": -1.038}]},
      "mark": {"type": "text", "font": "Liberation Sans", "fontWeight": "bold", "fontSize": 49, "align": "left", "baseline": "alphabetic", "color": "#000000"},
      "encoding": {
        "x": {"field": "kx", "type": "quantitative", "scale": {"domain": [-1.6486, 1.5815], "nice": false, "zero": false}, "axis": null},
        "y": {"field": "ky", "type": "quantitative", "scale": {"domain": [-1.0696, 1.2025], "nice": false, "zero": false}, "axis": null},
        "text": {"field": "label"}
      }
    }
  ]
}
